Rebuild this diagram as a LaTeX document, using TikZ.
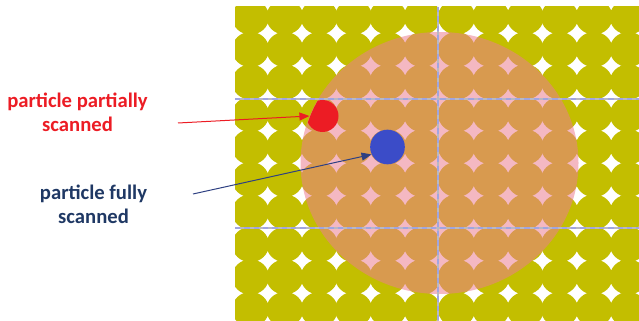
\documentclass[tikz,border=0pt]{standalone}
\usepackage{fontspec}
\setmainfont{Carlito}
\usetikzlibrary{arrows.meta}
\definecolor{olivedot}{RGB}{195,190,0}
\definecolor{scanarea}{RGB}{235,125,144}
\definecolor{redpart}{RGB}{236,28,36}
\definecolor{bluepart}{RGB}{59,76,200}
\definecolor{navytext}{RGB}{31,56,100}
\definecolor{arrowblue}{RGB}{46,64,130}
\definecolor{gridgray}{RGB}{185,185,195}
\definecolor{griddash}{RGB}{160,165,225}
\begin{document}
\begin{tikzpicture}[x=0.75pt,y=-0.75pt,
    notetext/.style={font=\bfseries\fontsize{15.5}{18}\selectfont, align=center},
    gridline/.style={gridgray, line width=0.9pt},
    griddashed/.style={griddash, line width=0.9pt, dash pattern=on 4pt off 3pt},
    pointer/.style={-{Triangle[length=7.5pt,width=6pt]}, line width=0.75pt}]
    \useasboundingbox (0,0) rectangle (639,321);
    % dot lattice
    \begin{scope}
        \clip (235,7) rectangle (639,321);
        \foreach \i in {0,...,11}
            \foreach \j in {0,...,9}
                \fill[olivedot] (250.5+34.35*\i, 17+32.5*\j) ellipse [x radius=13.9pt, y radius=13.2pt];
    \end{scope}
    % scanned area
    \fill[scanarea, fill opacity=0.55] (439.5,163) ellipse [x radius=104.25pt, y radius=98.25pt];
    % grid lines
    \foreach \y in {99,228} {
        \draw[gridline] (235,\y) -- (639,\y);
        \draw[griddashed] (235,\y) -- (639,\y);
    }
    \draw[gridline] (438,7) -- (438,321);
    \draw[griddashed] (438,7) -- (438,321);
    % particles
    \begin{scope}
        \clip (439.5,163) ellipse [x radius=103.8pt, y radius=98.25pt];
        \fill[redpart] (322.5,116) circle [radius=12pt];
    \end{scope}
    \node[circle, minimum size=20pt, inner sep=0pt] (partial) at (323,116) {};
    \node[circle, fill=bluepart, minimum size=26pt, inner sep=0pt] (full) at (387.5,147) {};
    % labels
    \node[notetext, redpart] (partiallabel) at (77.5,112) {particle partially\\scanned};
    \node[notetext, navytext] (fulllabel) at (93.5,204) {particle fully\\scanned};
    \coordinate (redtail) at (178,123);
    \coordinate (bluetail) at (193,194);
    \draw[pointer, redpart] (redtail) -- (partial.west);
    \draw[pointer, arrowblue] (bluetail) -- (full.205);
\end{tikzpicture}
\end{document}
